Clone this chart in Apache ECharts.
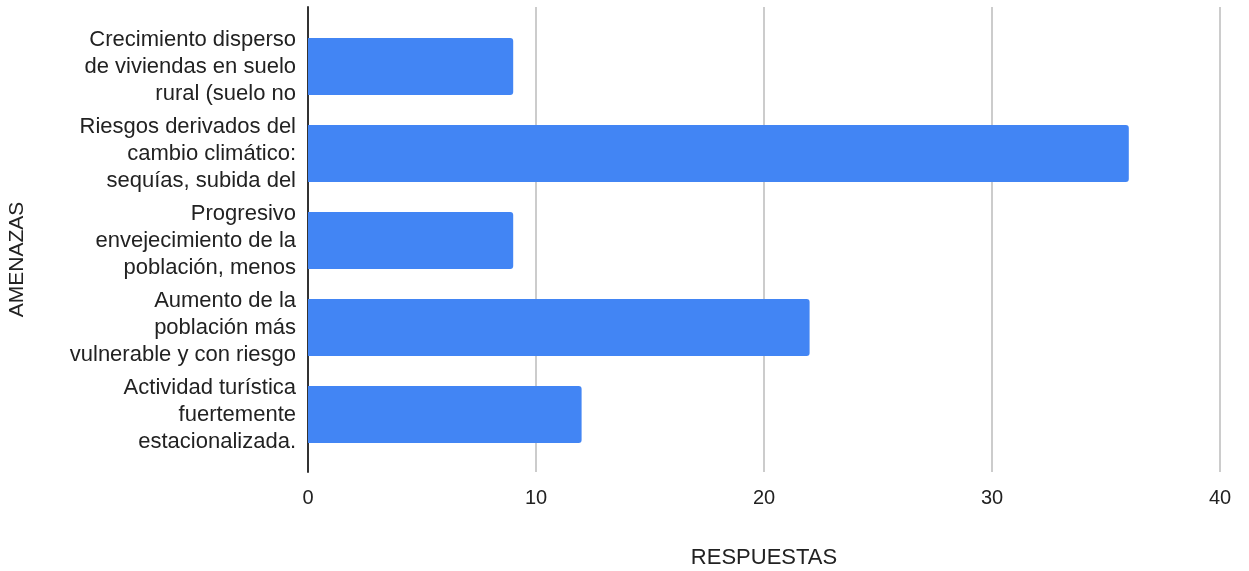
<!DOCTYPE html>
<html>
<head>
<meta charset="utf-8">
<script src="https://cdn.jsdelivr.net/npm/echarts@6/dist/echarts.min.js"></script>
<style>
    html, body { margin: 0; padding: 0; background: #fff; }
    #chart { width: 1249px; height: 571px; }
</style>
</head>
<body>
<div id="chart"></div>
<script>
// categorias (de arriba a abajo)
var categorias = [
    'Crecimiento disperso\nde viviendas en suelo\nrural (suelo no',
    'Riesgos derivados del\ncambio climático:\nsequías, subida del',
    'Progresivo\nenvejecimiento de la\npoblación, menos',
    'Aumento de la\npoblación más\nvulnerable y con riesgo',
    'Actividad turística\nfuertemente\nestacionalizada.'
];
var respuestas = [9, 36, 9, 22, 12];
var ticksX = [0, 10, 20, 30, 40];

var chart = echarts.init(document.getElementById('chart'));
var font = 'Liberation Sans, Arial, sans-serif';

var option = {
    animation: false,
    grid: [
        // rejilla exterior: lineas verticales y eje
        {left: 308, right: 29, top: 7, bottom: 99, outerBoundsMode: 'none'},
        // zona de las barras
        {left: 308, right: 29, top: 23, bottom: 113, outerBoundsMode: 'none'}
    ],
    xAxis: [
        {
            gridIndex: 0,
            type: 'value',
            min: ticksX[0],
            max: ticksX[ticksX.length - 1],
            interval: 10,
            name: 'RESPUESTAS',
            nameLocation: 'middle',
            nameGap: 75,
            nameTextStyle: {color: '#222', fontSize: 22, fontFamily: font},
            axisLine: {show: false},
            axisTick: {show: false},
            axisLabel: {color: '#222', fontSize: 20, fontFamily: font, margin: 16},
            splitLine: {show: true, lineStyle: {color: '#cccccc', width: 2}}
        },
        {
            gridIndex: 1,
            type: 'value',
            min: 0,
            max: 40,
            show: false
        }
    ],
    yAxis: [
        {
            gridIndex: 0,
            type: 'category',
            data: [''],
            name: 'AMENAZAS',
            nameLocation: 'middle',
            nameGap: 280,
            nameRotate: 90,
            nameTextStyle: {color: '#222', fontSize: 21, fontFamily: font, padding: [0, 40, 0, 0]},
            axisLine: {show: true, lineStyle: {color: '#333', width: 2}},
            axisTick: {show: false},
            axisLabel: {show: false}
        },
        {
            gridIndex: 1,
            type: 'category',
            data: categorias,
            inverse: true,
            axisLine: {show: false},
            axisTick: {show: false},
            axisLabel: {
                interval: 0,
                hideOverlap: false,
                color: '#222',
                fontSize: 22,
                fontFamily: font,
                lineHeight: 27,
                align: 'right',
                margin: 12,
                padding: [7, 0, 0, 0]
            }
        }
    ],
    series: [
        {
            type: 'bar',
            xAxisIndex: 1,
            yAxisIndex: 1,
            data: respuestas,
            barWidth: 57,
            itemStyle: {color: '#4285f4', borderRadius: [0, 3, 3, 0]}
        }
    ]
};

chart.setOption(option);
</script>
</body>
</html>
